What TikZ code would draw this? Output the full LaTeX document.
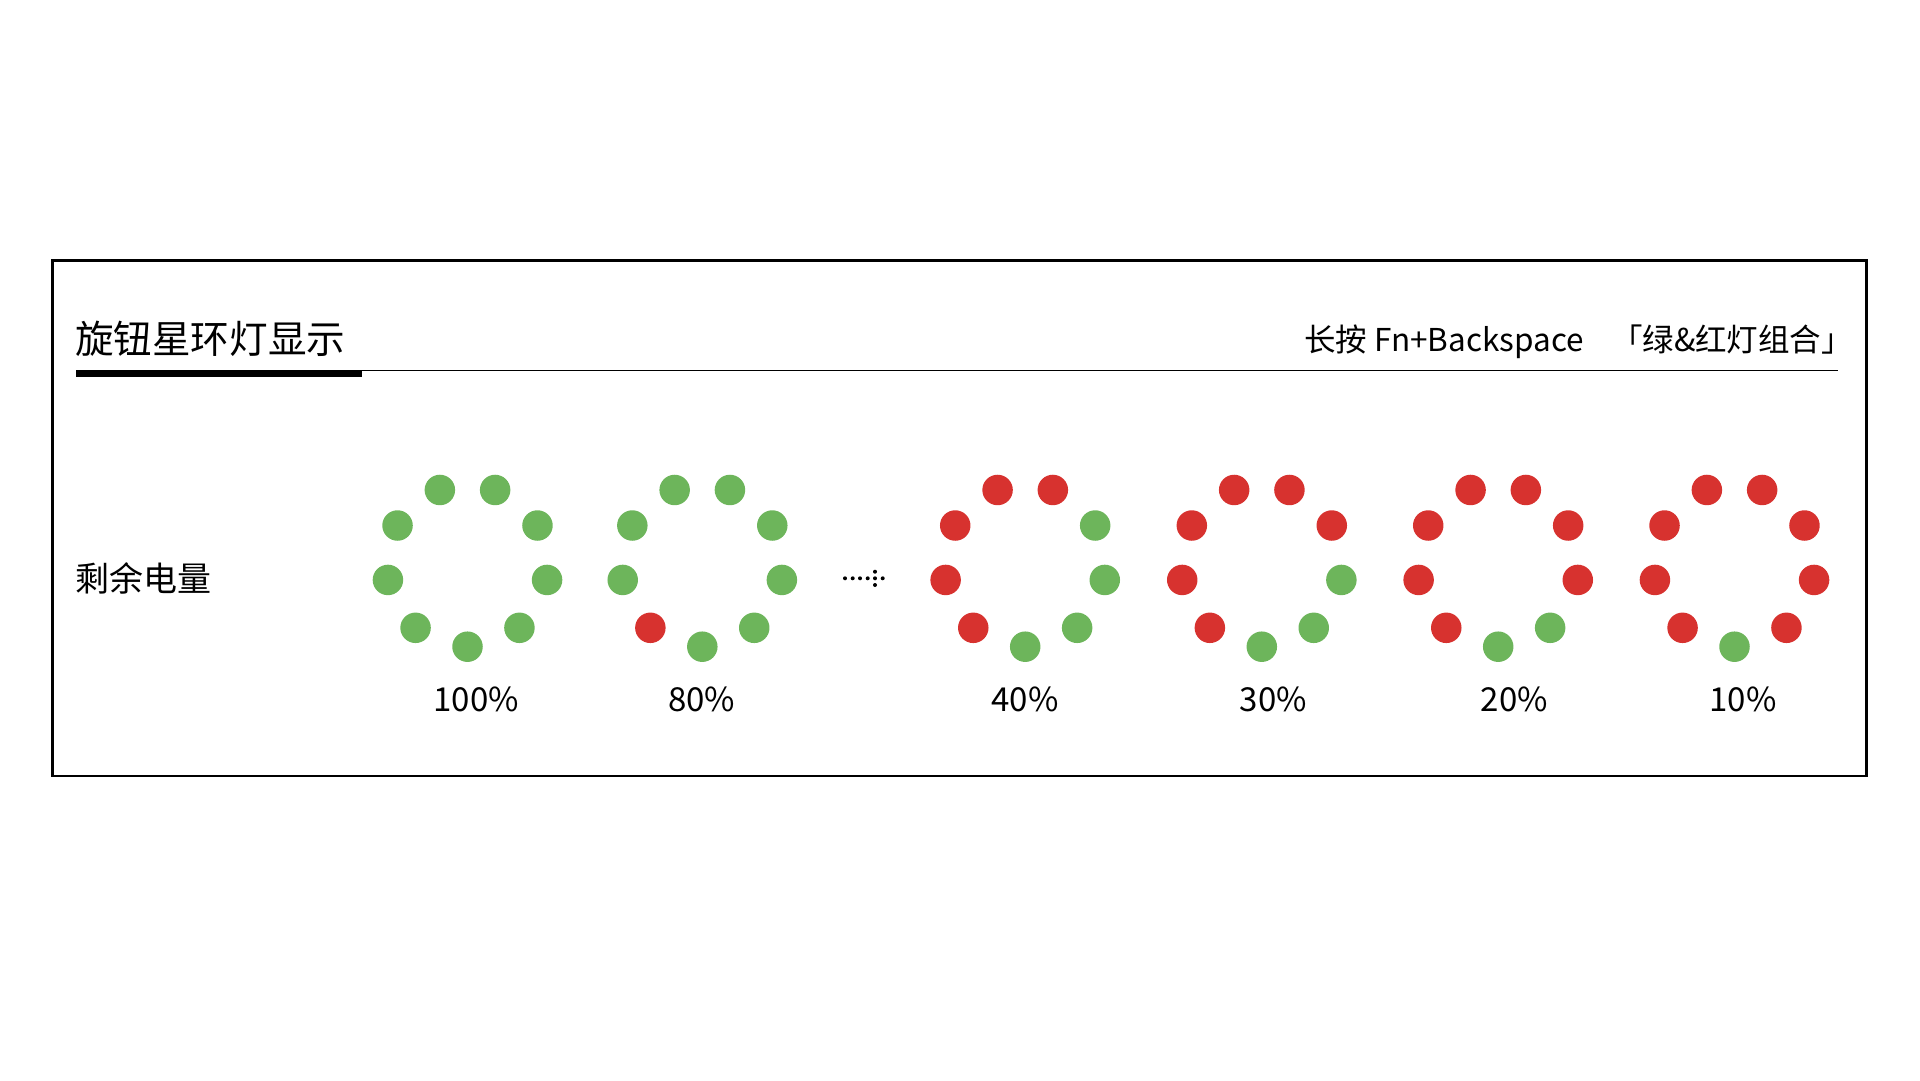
\documentclass[tikz,border=0pt]{standalone}
\usepackage{fontspec}
\setmainfont{Noto Sans CJK SC}
\usepackage{tikz}
\definecolor{ledgreen}{HTML}{6DB55B}
\definecolor{ledred}{HTML}{D7322F}
\tikzset{
    ringdot/.style = {
        circle,
        inner sep=0pt,
        outer sep=0pt,
        minimum size=30.5pt
    },
    greendot/.style = {
        ringdot,
        fill=ledgreen
    },
    reddot/.style = {
        ringdot,
        fill=ledred
    },
    textnode/.style = {
        inner sep=0pt,
        outer sep=0pt
    },
    titlenode/.style = {
        textnode,
        font=\fontsize{38.6}{46}\selectfont
    },
    hintnode/.style = {
        textnode,
        font=\fontsize{31.5}{37}\selectfont
    },
    rownode/.style = {
        textnode,
        font=\fontsize{34}{40}\selectfont
    },
    pctnode/.style = {
        textnode,
        font=\fontsize{33}{39}\selectfont
    }
}

\begin{document}
\begin{tikzpicture}[x=1pt,y=-1pt]
    \useasboundingbox (0,0) rectangle (1920,1080);
    \draw [line width=2.7pt] (52.6,260.5) rectangle (1866.7,776);

    % header
    \node [titlenode, anchor=west] (title) at (75,339) {旋钮星环灯显示};
    \node [hintnode, anchor=east] (hint) at (1853,342) {长按 Fn+Backspace\hspace{20pt} 「绿\&红灯组合」};
    \fill (76,370) rectangle (362,377.3);
    \draw [line width=1.5pt] (76,370.7) -- (1838,370.7);

    \node [rownode, anchor=west] (row) at (75,578) {剩余电量};

    % rings: centre x / label x / red dots
    \foreach \cx/\lx/\nred/\pct [count=\i] in {
            467.5/476.3/0/100, 702.3/701.6/1/80, 1025.2/1025/5/40,
            1261.8/1273.3/6/30, 1498.2/1514.2/7/20, 1734.5/1743/8/10}{
        \foreach \k in {1,...,9}{
            \pgfmathsetmacro{\ang}{230-40*(\k-1)}
            \ifnum\k>\nred \def\dotstyle{greendot}\else\def\dotstyle{reddot}\fi
            \node [\dotstyle] (d\i-\k) at ([shift={(\ang:80.8pt)}]\cx,565.9) {};
        }
        \node [pctnode] (pct\i) at (\lx,699) {\pct\%};
    }

    % dots between 80% and 40%
    \foreach \ex in {845,852.7,860,867.7,875,882.7}
        \fill (\ex,578.3) circle (2pt);
    \fill (875,571.7) circle (2pt);
    \fill (875,585) circle (2pt);
\end{tikzpicture}
\end{document}
